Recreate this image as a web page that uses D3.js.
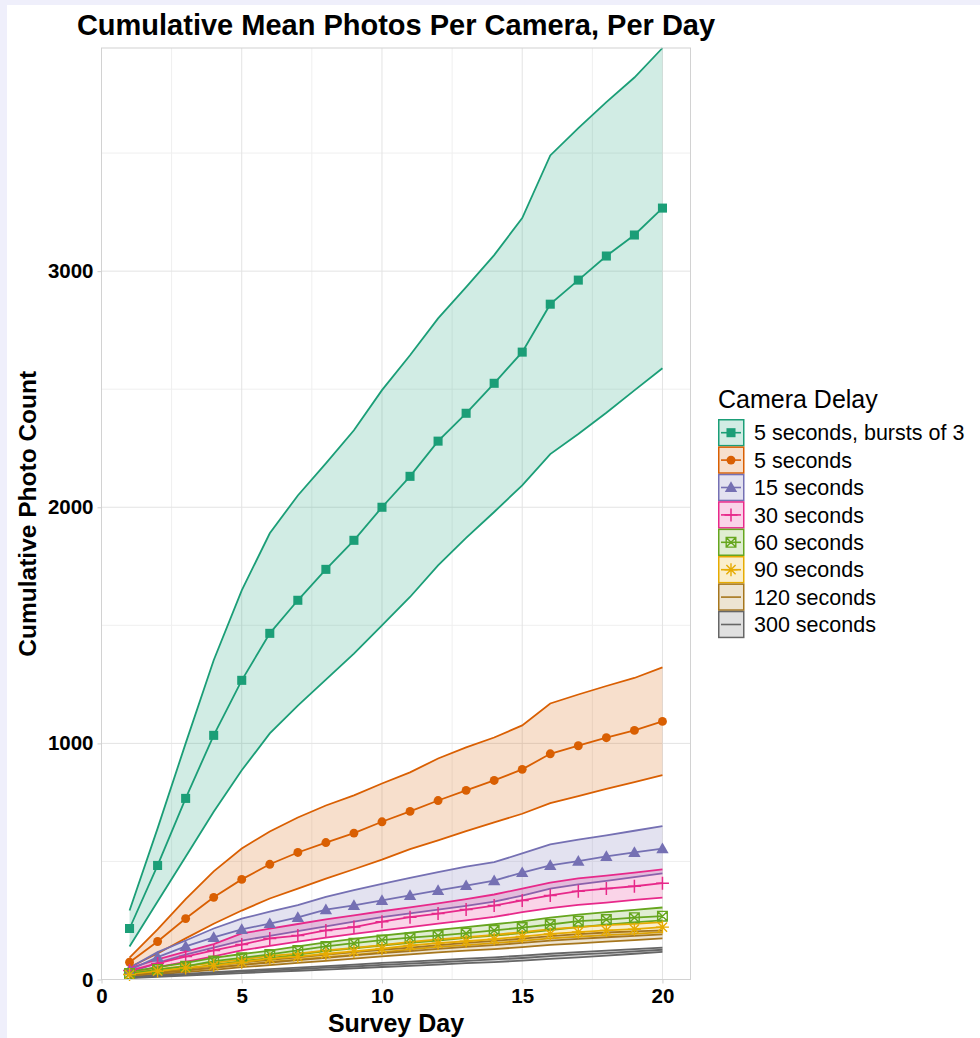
<!DOCTYPE html>
<html>
<head>
<meta charset="utf-8">
<script src="https://cdn.jsdelivr.net/npm/d3@7"></script>
<style>
  body { margin: 0; background: #fff; }
  text { font-family: "Liberation Sans", Arial, sans-serif; }
</style>
</head>
<body>
<script>
let days = [1, 2, 3, 4, 5, 6, 7, 8, 9, 10, 11, 12, 13, 14, 15, 16, 17, 18, 19, 20]
let delays = ["5 seconds, bursts of 3", "5 seconds", "15 seconds", "30 seconds", "60 seconds", "90 seconds", "120 seconds", "300 seconds"]
let colors = ["#1b9e77", "#d95f02", "#7570b3", "#e7298a", "#66a61e", "#e6ab02", "#a6761d", "#666666"]
let shapes = ["square", "circle", "triangle", "plus", "boxcross", "asterisk", "none", "none"]

let meanBursts = [216, 483, 767, 1034, 1267, 1466, 1606, 1737, 1860, 2000, 2131, 2280, 2398, 2525, 2657, 2860, 2962, 3064, 3153, 3267]
let upperBursts = [292, 640, 1000, 1352, 1648, 1890, 2050, 2186, 2326, 2496, 2644, 2800, 2932, 3068, 3225, 3490, 3606, 3716, 3820, 3945]
let lowerBursts = [140, 330, 520, 710, 886, 1042, 1160, 1270, 1380, 1500, 1620, 1754, 1870, 1980, 2093, 2225, 2310, 2400, 2495, 2589]

let mean5 = [73, 161, 258, 348, 424, 488, 538, 580, 620, 668, 712, 758, 801, 843, 890, 956, 990, 1024, 1055, 1093]
let upper5 = [93, 212, 340, 458, 555, 627, 686, 737, 780, 830, 877, 936, 983, 1025, 1076, 1169, 1207, 1243, 1277, 1322]
let lower5 = [52, 110, 174, 236, 292, 343, 385, 427, 467, 508, 552, 589, 628, 665, 702, 747, 777, 807, 836, 866]

let mean15 = [40, 95, 140, 178, 212, 237, 263, 296, 314, 335, 356, 377, 398, 419, 453, 483, 501, 521, 538, 554]
let upper15 = [50, 116, 165, 216, 258, 287, 315, 350, 378, 405, 430, 455, 478, 497, 534, 572, 592, 610, 630, 650]
let lower15 = [30, 70, 105, 135, 165, 185, 205, 225, 245, 264, 280, 296, 312, 330, 355, 385, 403, 418, 434, 449]

let mean30 = [38, 68, 97, 123, 148, 174, 186, 208, 222, 245, 264, 279, 296, 313, 335, 356, 374, 385, 395, 408]
let upper30 = [48, 85, 118, 150, 195, 215, 235, 255, 272, 289, 305, 322, 340, 360, 385, 410, 428, 440, 453, 466]
let lower30 = [28, 52, 75, 98, 123, 142, 160, 177, 193, 208, 222, 237, 250, 265, 285, 302, 316, 326, 337, 347]

let mean60 = [25, 42, 56, 78, 92, 106, 123, 140, 154, 167, 177, 186, 196, 208, 220, 233, 247, 254, 262, 268]
let upper60 = [32, 52, 70, 92, 108, 122, 140, 157, 172, 186, 198, 210, 222, 234, 246, 262, 275, 285, 295, 305]
let lower60 = [18, 34, 45, 62, 78, 90, 105, 120, 132, 144, 155, 165, 176, 186, 196, 209, 222, 232, 242, 250]

let mean90 = [21, 35, 49, 59, 73, 88, 97, 109, 119, 131, 144, 154, 162, 171, 182, 193, 201, 208, 213, 222]
let upper90 = [26, 43, 58, 70, 85, 100, 110, 123, 134, 146, 159, 170, 179, 189, 201, 213, 222, 230, 236, 243]
let lower90 = [16, 28, 40, 49, 61, 75, 84, 95, 104, 115, 128, 138, 146, 154, 164, 174, 181, 188, 193, 201]

let mean120 = [15, 28, 38, 50, 62, 72, 82, 92, 102, 112, 120, 130, 138, 146, 155, 165, 172, 179, 185, 191]
let upper120 = [19, 34, 46, 59, 72, 83, 94, 105, 116, 126, 135, 146, 155, 164, 173, 184, 192, 199, 204, 208]
let lower120 = [11, 22, 31, 41, 52, 61, 70, 79, 88, 98, 106, 115, 122, 129, 137, 147, 153, 160, 167, 174]

let mean300 = [8, 14, 21, 27, 33, 38, 44, 50, 55, 62, 67, 73, 79, 85, 91, 99, 106, 112, 119, 126]
let upper300 = [10, 17, 24, 31, 38, 44, 50, 57, 63, 70, 76, 82, 88, 94, 101, 109, 116, 122, 129, 135]
let lower300 = [6, 11, 17, 22, 27, 32, 37, 42, 47, 53, 58, 63, 69, 74, 80, 87, 94, 101, 109, 117]

let xTicks = [0, 5, 10, 15, 20]
let yTicks = [0, 1000, 2000, 3000]

let means = [meanBursts, mean5, mean15, mean30, mean60, mean90, mean120, mean300]
let uppers = [upperBursts, upper5, upper15, upper30, upper60, upper90, upper120, upper300]
let lowers = [lowerBursts, lower5, lower15, lower30, lower60, lower90, lower120, lower300]

// one record per delay group, built from the arrays above
let groups = delays.map((name, g) => ({
    name: name,
    color: colors[g],
    shape: shapes[g],
    rows: days.map((d, i) => ({ day: d, mean: means[g][i], hi: uppers[g][i], lo: lowers[g][i] }))
}))

let W = 980, H = 1038
let panel = { left: 101.5, right: 690.5, top: 48, bottom: 979.5 }

let x = d3.scaleLinear().domain([0, 21]).range([panel.left, panel.right])
let y = d3.scaleLinear().domain([0, 3945]).range([panel.bottom, panel.top])

let svg = d3.select("body").append("svg").attr("width", W).attr("height", H)

// lavender frame on the top and left edges
svg.append("rect").attr("width", W).attr("height", H).attr("fill", "#fff")
svg.append("rect").attr("width", W).attr("height", 5).attr("fill", "#efeffb")
svg.append("rect").attr("width", 7).attr("height", H).attr("fill", "#efeffb")

// grid
let grid = svg.append("g")
let minorX = [2.5, 7.5, 12.5, 17.5]
let minorY = [500, 1500, 2500, 3500]
grid.selectAll(".mx").data(minorX).enter().append("line")
    .attr("x1", d => x(d)).attr("x2", d => x(d))
    .attr("y1", panel.top).attr("y2", panel.bottom)
    .attr("stroke", "#efefef").attr("stroke-width", 1)
grid.selectAll(".my").data(minorY).enter().append("line")
    .attr("y1", d => y(d)).attr("y2", d => y(d))
    .attr("x1", panel.left).attr("x2", panel.right)
    .attr("stroke", "#efefef").attr("stroke-width", 1)
grid.selectAll(".gx").data(xTicks).enter().append("line")
    .attr("x1", d => x(d)).attr("x2", d => x(d))
    .attr("y1", panel.top).attr("y2", panel.bottom)
    .attr("stroke", "#e3e3e3").attr("stroke-width", 1)
grid.selectAll(".gy").data(yTicks).enter().append("line")
    .attr("y1", d => y(d)).attr("y2", d => y(d))
    .attr("x1", panel.left).attr("x2", panel.right)
    .attr("stroke", "#e3e3e3").attr("stroke-width", 1)

// bands
let area = d3.area().x(d => x(d.day)).y0(d => y(d.lo)).y1(d => y(d.hi))
let lineOf = key => d3.line().x(d => x(d.day)).y(d => y(d[key]))

let bands = svg.append("g")
groups.forEach(gr => {
    bands.append("path").datum(gr.rows)
        .attr("d", area)
        .attr("fill", gr.color).attr("fill-opacity", 0.2)
    ;["hi", "lo"].forEach(k => {
        bands.append("path").datum(gr.rows)
            .attr("d", lineOf(k))
            .attr("fill", "none").attr("stroke", gr.color).attr("stroke-width", 1.8)
    })
})

// mean lines
let lines = svg.append("g")
groups.forEach(gr => {
    lines.append("path").datum(gr.rows)
        .attr("d", lineOf("mean"))
        .attr("fill", "none").attr("stroke", gr.color).attr("stroke-width", 1.8)
})

// markers
let drawShape = (sel, shape, color) => {
    if (shape == "square") {
        sel.append("path").attr("d", d3.symbol(d3.symbolSquare, 82)).attr("fill", color)
    } else if (shape == "circle") {
        sel.append("path").attr("d", d3.symbol(d3.symbolCircle, 62)).attr("fill", color)
    } else if (shape == "triangle") {
        sel.append("path").attr("d", d3.symbol(d3.symbolTriangle, 66)).attr("fill", color)
            .attr("transform", "translate(0,1)")
    } else if (shape == "plus") {
        sel.append("path").attr("d", "M-6.5,0H6.5M0,-6.5V6.5").attr("stroke", color).attr("stroke-width", 1.5).attr("fill", "none")
    } else if (shape == "boxcross") {
        sel.append("path").attr("d", "M-4.8,-4.8H4.8V4.8H-4.8ZM-4.8,-4.8L4.8,4.8M4.8,-4.8L-4.8,4.8")
            .attr("stroke", color).attr("stroke-width", 1.4).attr("fill", "none")
    } else if (shape == "asterisk") {
        sel.append("path").attr("d", "M-6.5,0H6.5M0,-6.5V6.5M-4.6,-4.6L4.6,4.6M4.6,-4.6L-4.6,4.6")
            .attr("stroke", color).attr("stroke-width", 1.4).attr("fill", "none")
    }
}

let marks = svg.append("g")
groups.forEach(gr => {
    if (gr.shape == "none") return
    marks.selectAll(null).data(gr.rows).enter().append("g")
        .attr("transform", d => `translate(${x(d.day)},${y(d.mean)})`)
        .each(function () { drawShape(d3.select(this), gr.shape, gr.color) })
})

// panel border
svg.append("rect")
    .attr("x", panel.left).attr("y", panel.top)
    .attr("width", panel.right - panel.left).attr("height", panel.bottom - panel.top)
    .attr("fill", "none").attr("stroke", "#d2d2d2").attr("stroke-width", 1)

// axes
let xAxis = svg.append("g").attr("transform", `translate(0,${panel.bottom})`)
    .call(d3.axisBottom(x).tickValues(xTicks).tickSize(4).tickPadding(3))
let yAxis = svg.append("g").attr("transform", `translate(${panel.left},0)`)
    .call(d3.axisLeft(y).tickValues(yTicks).tickSize(4).tickPadding(4).tickFormat(d3.format("d")))
;[xAxis, yAxis].forEach(a => {
    a.select(".domain").remove()
    a.selectAll(".tick line").attr("stroke", "#cfcfcf")
    a.selectAll(".tick text").attr("fill", "#000")
        .style("font-size", "20.5px").style("font-weight", "bold")
        .style("font-family", "'Liberation Sans', Arial, sans-serif")
})
xAxis.selectAll(".tick text").attr("dy", "0.8em")

// titles
svg.append("text").attr("x", (panel.left + panel.right) / 2).attr("y", 35)
    .attr("text-anchor", "middle").style("font-size", "29px").style("font-weight", "bold")
    .text("Cumulative Mean Photos Per Camera, Per Day")
svg.append("text").attr("x", (panel.left + panel.right) / 2).attr("y", 1032)
    .attr("text-anchor", "middle").style("font-size", "25px").style("font-weight", "bold")
    .text("Survey Day")
svg.append("text").attr("transform", `translate(36,${(panel.top + panel.bottom) / 2}) rotate(-90)`)
    .attr("text-anchor", "middle").style("font-size", "24.5px").style("font-weight", "bold")
    .text("Cumulative Photo Count")

// legend
let legend = svg.append("g")
legend.append("text").attr("x", 718).attr("y", 408)
    .style("font-size", "25px").text("Camera Delay")
let rowH = 27.4
let items = legend.selectAll(".item").data(groups).enter().append("g")
    .attr("transform", (d, i) => `translate(718,${419 + i * rowH})`)
items.append("rect").attr("x", 0.75).attr("y", 0.75).attr("width", 25).attr("height", rowH - 1.5)
    .attr("fill", d => d.color).attr("fill-opacity", 0.2)
    .attr("stroke", d => d.color).attr("stroke-width", 1.5)
items.append("line").attr("x1", 3).attr("x2", 23).attr("y1", rowH / 2).attr("y2", rowH / 2)
    .attr("stroke", d => d.color).attr("stroke-width", 1.6)
items.append("g").attr("transform", `translate(13,${rowH / 2})`)
    .each(function (d) { drawShape(d3.select(this), d.shape, d.color) })
items.append("text").attr("x", 36).attr("y", rowH / 2).attr("dy", "0.36em")
    .style("font-size", "21.5px").text(d => d.name)
</script>
</body>
</html>
